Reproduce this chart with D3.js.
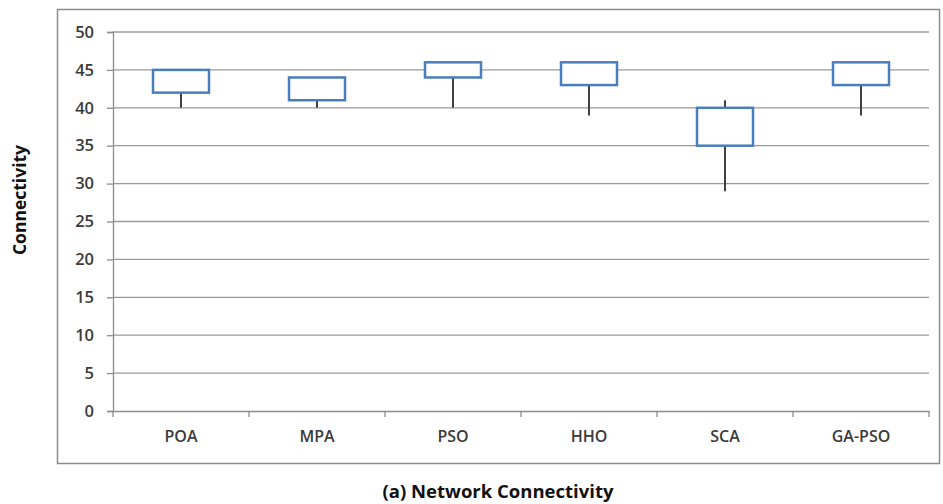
<!DOCTYPE html>
<html>
<head>
<meta charset="utf-8">
<script src="https://cdn.jsdelivr.net/npm/d3@7"></script>
<style>
  body { margin: 0; background: #fff; }
  text { font-family: "Open Sans", "Liberation Sans", sans-serif; }
</style>
</head>
<body>
<svg width="943" height="504"></svg>
<script>
// box plot data
var algorithms = ["POA", "MPA", "PSO", "HHO", "SCA", "GA-PSO"];
var minVals = [40, 40, 40, 39, 29, 39];
var q1Vals  = [42, 41, 44, 43, 35, 43];
var q3Vals  = [45, 44, 46, 46, 40, 46];
var maxVals = [45, 44, 46, 46, 41, 46];
var yTicks  = [0, 5, 10, 15, 20, 25, 30, 35, 40, 45, 50];

var margin = {top: 32, right: 14, bottom: 93, left: 113};
var width = 943, height = 504;

var svg = d3.select("svg");

// outer frame
svg.append("rect")
    .attr("x", 57.5).attr("y", 9.5)
    .attr("width", 882).attr("height", 454)
    .attr("fill", "none")
    .attr("stroke", "#8c8c8c")
    .attr("stroke-width", 1.5);

var x = d3.scaleBand()
    .domain(algorithms)
    .range([margin.left, width - margin.right]);

var y = d3.scaleLinear()
    .domain([0, 50])
    .range([height - margin.bottom, margin.top]);

// gridlines
svg.append("g")
  .selectAll("line")
  .data(yTicks.filter(d => d > 0))
  .enter().append("line")
    .attr("x1", margin.left)
    .attr("x2", width - margin.right)
    .attr("y1", d => y(d))
    .attr("y2", d => y(d))
    .attr("stroke", "#9a9a9a")
    .attr("stroke-width", 1.3);

// Y axis
var yAxis = svg.append("g")
    .attr("transform", `translate(${margin.left},0)`)
    .call(d3.axisLeft(y).tickValues(yTicks).tickSize(6).tickPadding(13));
yAxis.select(".domain").attr("stroke", "#8c8c8c").attr("stroke-width", 1.3);
yAxis.selectAll(".tick line").attr("stroke", "#8c8c8c").attr("stroke-width", 1.3);
yAxis.selectAll(".tick text")
    .attr("font-size", 16.5)
    .attr("font-weight", 600)
    .attr("fill", "#3b3b3b");

// X axis
var xAxis = svg.append("g")
    .attr("transform", `translate(0,${y(0)})`)
    .call(d3.axisBottom(x).tickSize(0).tickPadding(20));
xAxis.select(".domain").attr("stroke", "#8c8c8c").attr("stroke-width", 1.3);
xAxis.selectAll(".tick text")
    .attr("font-size", 16)
    .attr("font-weight", 600)
    .attr("fill", "#3b3b3b");

// category separator ticks
svg.append("g")
  .selectAll("line")
  .data(algorithms.concat(["end"]))
  .enter().append("line")
    .attr("x1", (d, i) => margin.left + i * x.bandwidth())
    .attr("x2", (d, i) => margin.left + i * x.bandwidth())
    .attr("y1", y(0))
    .attr("y2", y(0) + 6)
    .attr("stroke", "#8c8c8c")
    .attr("stroke-width", 1.3);

// whiskers
var boxW = 56;
var boxes = svg.append("g")
  .selectAll("g")
  .data(algorithms)
  .enter().append("g");

boxes.append("line")
    .attr("x1", d => x(d) + x.bandwidth() / 2)
    .attr("x2", d => x(d) + x.bandwidth() / 2)
    .attr("y1", (d, i) => y(minVals[i]))
    .attr("y2", (d, i) => y(q1Vals[i]))
    .attr("stroke", "#404040")
    .attr("stroke-width", 2);

boxes.append("line")
    .attr("x1", d => x(d) + x.bandwidth() / 2)
    .attr("x2", d => x(d) + x.bandwidth() / 2)
    .attr("y1", (d, i) => y(maxVals[i]))
    .attr("y2", (d, i) => y(q3Vals[i]))
    .attr("stroke", "#404040")
    .attr("stroke-width", 2);

boxes.append("rect")
    .attr("x", d => x(d) + x.bandwidth() / 2 - boxW / 2)
    .attr("y", (d, i) => y(q3Vals[i]))
    .attr("width", boxW)
    .attr("height", (d, i) => y(q1Vals[i]) - y(q3Vals[i]))
    .attr("fill", "#fff")
    .attr("stroke", "#4a7ebb")
    .attr("stroke-width", 2.5);

// axis title
svg.append("text")
    .attr("transform", "translate(26,200) rotate(-90)")
    .attr("text-anchor", "middle")
    .attr("font-size", 17.5)
    .attr("font-weight", 700)
    .attr("fill", "#111")
    .text("Connectivity");

// caption
svg.append("text")
    .attr("x", 498)
    .attr("y", 498)
    .attr("text-anchor", "middle")
    .attr("font-size", 18.5)
    .attr("font-weight", 700)
    .attr("fill", "#111")
    .text("(a) Network Connectivity");
</script>
</body>
</html>
